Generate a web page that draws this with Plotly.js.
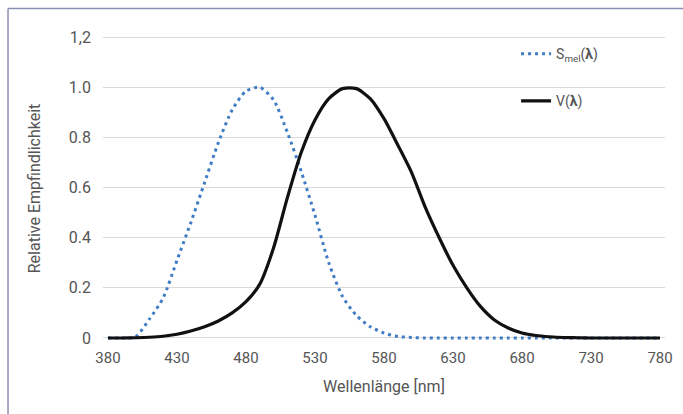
<!DOCTYPE html>
<html>
<head>
<meta charset="utf-8">
<script src="https://cdn.plot.ly/plotly-3.0.1.min.js"></script>
<style>html,body{margin:0;padding:0;background:#fff;}#chart{width:683px;height:414px;}</style>
</head>
<body>
<div id="chart"></div>
<script>
// Wavelengths (nm)
const wavelength = [380,390,400,410,420,430,440,450,460,470,480,490,500,510,520,530,540,550,560,570,580,590,600,610,620,630,640,650,660,670,680,690,700,710,720,730,740,750,760,770,780];
// Melanopic sensitivity S_mel(λ)
const smel = [0,0,0.005,0.075,0.16,0.31,0.46,0.62,0.78,0.91,0.985,1.0,0.95,0.82,0.665,0.49,0.30,0.165,0.09,0.045,0.02,0.006,0.002,0,0,0,0,0,0,0,0,0,0,0,0,0,0,0,0,0,0];
// Photopic sensitivity V(λ)
const vlam = [0,0,0.001,0.003,0.007,0.015,0.028,0.045,0.068,0.10,0.145,0.215,0.36,0.56,0.74,0.87,0.955,0.995,0.995,0.955,0.875,0.77,0.66,0.52,0.40,0.29,0.20,0.125,0.072,0.04,0.02,0.01,0.005,0.002,0.001,0,0,0,0,0,0];
const xTicks = [380,430,480,530,580,630,680,730,780];
const yTicks = [0,0.2,0.4,0.6,0.8,1.0,1.2];
const yTickText = ["0","0.2","0.4","0.6","0.8","1.0","1,2"];
const nameSmel = "S<sub>mel</sub>(<b>λ</b>)";
const nameV = "V(<b>λ</b>)";

const font = "Roboto, 'DejaVu Sans', sans-serif";
const traces = [
  {x: wavelength, y: smel, name: nameSmel, mode: "lines", legendgroup: "a",
   line: {color: "#3f7cc4", width: 3, dash: "3px,4px", shape: "spline", smoothing: 0.7}},
  {x: wavelength, y: vlam, name: nameV, mode: "lines", legendgroup: "b",
   line: {color: "#111111", width: 3.2, shape: "spline", smoothing: 0.7}}
];
const layout = {
  width: 683, height: 414,
  margin: {l: 103, r: 18, t: 36, b: 73},
  paper_bgcolor: "#ffffff", plot_bgcolor: "#ffffff",
  font: {family: font, size: 15, color: "#555555"},
  showlegend: true,
  legend: {x: 0.735, y: 0.993, xanchor: "left", yanchor: "top", bgcolor: "rgba(0,0,0,0)",
           font: {size: 14, color: "#555555"}, traceorder: "grouped", tracegroupgap: 26},
  xaxis: {range: [376.4, 783.6], tickmode: "array", tickvals: xTicks, ticktext: xTicks.map(String),
          showgrid: false, zeroline: false, showline: false, ticks: "", ticklabelstandoff: 6,
          tickfont: {size: 15},
          title: {text: "Wellenlänge [nm]", font: {size: 16, color: "#555555"}, standoff: 14}},
  yaxis: {range: [-0.012, 1.205], tickmode: "array", tickvals: yTicks, ticktext: yTickText,
          showgrid: true, gridcolor: "#d9d9d9", gridwidth: 1, zeroline: false, showline: false, ticks: "",
          ticklabelstandoff: 11, tickfont: {size: 16},
          title: {text: "Relative Empfindlichkeit", font: {size: 16, color: "#555555"}, standoff: 24}},
  shapes: [
    {type: "line", xref: "paper", yref: "paper", x0: -0.169, x1: -0.169, y0: -0.25, y1: 1.09,
     line: {color: "#8a8fb4", width: 1.5}},
    {type: "line", xref: "paper", yref: "paper", x0: -0.169, x1: 1.1, y0: 1.09, y1: 1.09,
     line: {color: "#8a8fb4", width: 1.5}}
  ]
};
Plotly.newPlot("chart", traces, layout, {displayModeBar: false, staticPlot: true});
</script>
</body>
</html>
